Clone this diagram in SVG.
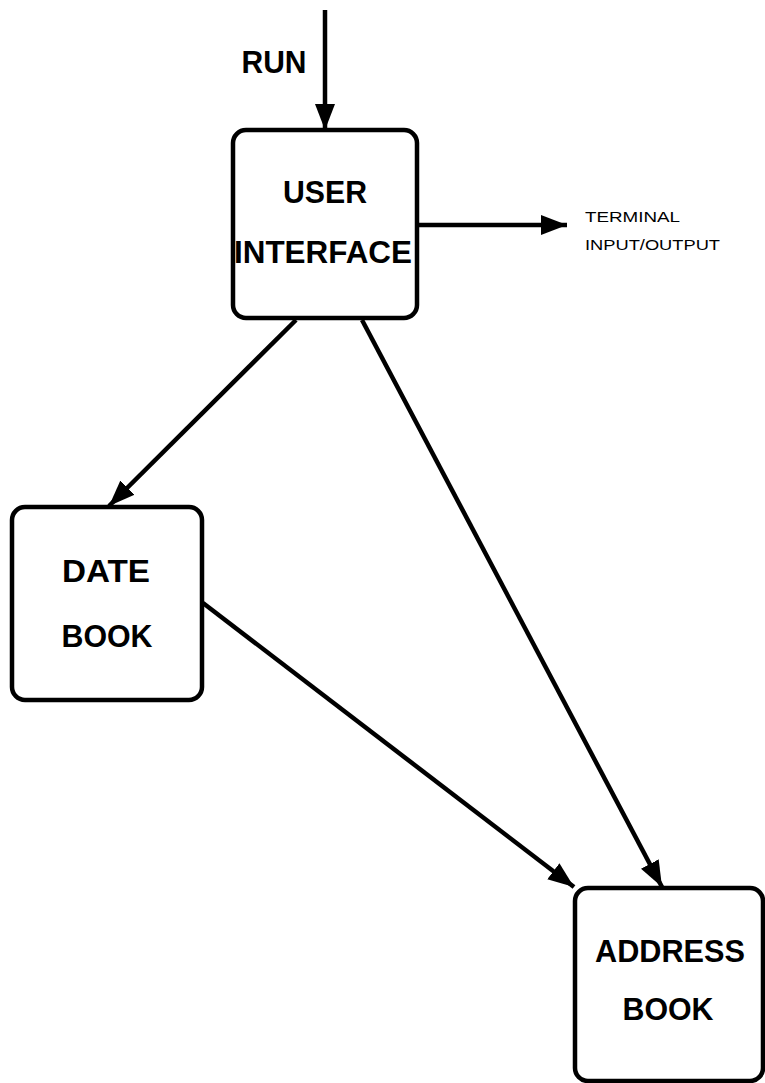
<svg xmlns="http://www.w3.org/2000/svg" width="765" height="1083" viewBox="0 0 765 1083">
<style>
.box{fill:#fff;stroke:#000;stroke-width:4.5}
.lbl{font-family:"Liberation Sans",Arial,sans-serif;font-weight:bold;font-size:31px;fill:#000;text-anchor:middle}
.sm{font-family:"Liberation Sans",Arial,sans-serif;font-size:15px;fill:#000}
.edge{stroke:#000;stroke-width:4.5;fill:none;marker-end:url(#ah)}
</style>
<defs>
<marker id="ah" markerUnits="userSpaceOnUse" markerWidth="28" markerHeight="22" refX="26" refY="10" orient="auto" viewBox="0 0 28 20">
<path d="M0,0 L26,10 L0,20 Z" fill="#000"/>
</marker>
</defs>
<rect width="765" height="1083" fill="#fff"/>
<g id="connectors">
<line class="edge" x1="325" y1="10" x2="325" y2="130"/>
<line class="edge" x1="417" y1="225" x2="567" y2="225"/>
<line class="edge" x1="296" y1="320" x2="109" y2="506"/>
<line class="edge" x1="362" y1="320" x2="662" y2="887"/>
<line class="edge" x1="203" y1="603" x2="574" y2="887"/>
</g>
<g id="run-label"><text class="lbl" x="274" y="73" textLength="65" lengthAdjust="spacingAndGlyphs">RUN</text></g>
<g id="terminal-label">
<text class="sm" x="585" y="222" textLength="95" lengthAdjust="spacingAndGlyphs">TERMINAL</text>
<text class="sm" x="585" y="250" textLength="135" lengthAdjust="spacingAndGlyphs">INPUT/OUTPUT</text>
</g>
<g id="user-interface">
<rect class="box" x="233" y="130" width="184" height="188" rx="13"/>
<text class="lbl" x="325" y="203" textLength="84" lengthAdjust="spacingAndGlyphs">USER</text>
<text class="lbl" x="323" y="263" textLength="178" lengthAdjust="spacingAndGlyphs">INTERFACE</text>
</g>
<g id="date-book">
<rect class="box" x="12" y="507" width="190" height="193" rx="13"/>
<text class="lbl" x="106" y="582" textLength="88" lengthAdjust="spacingAndGlyphs">DATE</text>
<text class="lbl" x="107" y="647" textLength="91" lengthAdjust="spacingAndGlyphs">BOOK</text>
</g>
<g id="address-book">
<rect class="box" x="575" y="888" width="188" height="193" rx="13"/>
<text class="lbl" x="670" y="962" textLength="150" lengthAdjust="spacingAndGlyphs">ADDRESS</text>
<text class="lbl" x="668" y="1020" textLength="91" lengthAdjust="spacingAndGlyphs">BOOK</text>
</g>
</svg>
